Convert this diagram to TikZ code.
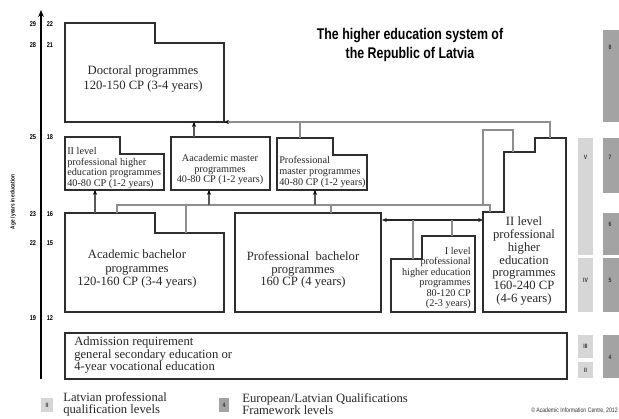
\documentclass[tikz,border=0pt]{standalone}
\usepackage{fontspec}
\setmainfont{Liberation Serif}
\newfontfamily\condsans[FakeStretch=0.8]{Liberation Sans}
\usepackage{tikz}
\usetikzlibrary{arrows.meta, positioning, calc}

\definecolor{lvlight}{HTML}{D6D6D6}
\definecolor{lvdark}{HTML}{A3A3A3}
\definecolor{boxline}{HTML}{2E2E2E}
\definecolor{connline}{HTML}{8E8E8E}

\begin{document}
\begin{tikzpicture}[x=0.025cm, y=-0.025cm,
    prog/.style={draw=boxline, line width=1.3pt},
    conn/.style={draw=connline, line width=0.8pt},
    arr/.style={draw=black!65, line width=0.8pt, -{Stealth[length=3.5pt, width=3pt, black]}},
    big/.style={font=\fontsize{9}{9.1}\selectfont, align=center, inner sep=0pt, text=black!85},
    small/.style={font=\fontsize{7.3}{7.5}\selectfont, inner sep=0pt, text=black!85},
    age/.style={font=\condsans\bfseries\fontsize{5}{5}\selectfont, inner sep=0pt},
    lvl/.style={font=\condsans\bfseries\fontsize{4.5}{4.5}\selectfont, inner sep=0pt, text=black!80}]
    \useasboundingbox (0,0) rectangle (619,419);

    % Achse
    \coordinate (axbot) at (41,379);
    \coordinate (axtop) at (41,10);
    \draw[line width=1.4pt, -{Stealth[length=5pt, width=4pt]}] (axbot) -- (axtop);
    \foreach \yy/\a/\b in {24/29/22, 45/28/21, 137/25/18, 214/23/16, 243/22/15, 318/19/12} {
        \node[age] (agea\a) at (33,\yy) {\a};
        \node[age] (ageb\b) at (50,\yy) {\b};
    }
    \node[age, rotate=90, font=\condsans\bfseries\fontsize{4.2}{4.2}\selectfont] (axlab) at (13,202) {Age / years in education};

    % Titel
    \node[font=\condsans\bfseries\fontsize{11}{14.2}\selectfont, align=center, inner sep=0pt] (title) at (410,45)
        {The higher education system of\\the Republic of Latvia};

    % Programme
    \draw[prog] (65,23) -- (155,23) -- (155,43) -- (224,43) -- (224,122) -- (65,122) -- cycle;
    \node[big, font=\fontsize{9}{10.7}\selectfont] (doc) at (143,79) {Doctoral programmes\\120-150 CP (3-4 years)};

    \draw[prog] (65,137) -- (120,137) -- (120,154) -- (164,154) -- (164,190) -- (65,190) -- cycle;
    \node[small, align=left, anchor=west] (p2m) at (67,168) {II level\\professional higher\\education programmes\\40-80 CP (1-2 years)};

    \draw[prog] (171,137) rectangle (270,190);
    \node[small, align=center] (am) at (220,170) {Aacademic master\\programmes\\40-80 CP (1-2 years)};

    \draw[prog] (277,138) -- (333,138) -- (333,155) -- (367,155) -- (367,190) -- (277,190) -- cycle;
    \node[small, align=left, anchor=west] (pm) at (279,172) {Professional\\master programmes\\40-80 CP (1-2 years)};

    \draw[prog] (65,213) -- (155,213) -- (155,233) -- (224,233) -- (224,312) -- (65,312) -- cycle;
    \node[big, font=\fontsize{9}{9.3}\selectfont] (ab) at (137,269) {Academic bachelor\\programmes\\120-160 CP (3-4 years)};

    \draw[prog] (235,213) rectangle (381,312);
    \node[big] (pb) at (303,270) {Professional~ bachelor\\programmes\\160 CP (4 years)};

    \draw[prog] (391,259) -- (422,259) -- (422,236) -- (475,236) -- (475,312) -- (391,312) -- cycle;
    \node[small, align=right, anchor=east] (p1) at (471,278) {I level\\professional\\higher education\\programmes\\80-120 CP\\(2-3 years)};

    \draw[prog] (483,312) -- (483,212) -- (504,212) -- (504,152) -- (535,152) -- (535,138) -- (566,138) -- (566,312) -- cycle;
    \node[big] (p2l) at (524,261) {II level\\professional\\higher\\education\\programmes\\160-240 CP\\(4-6 years)};

    \draw[prog] (65,333) rectangle (567,379);
    \node[big, align=left, anchor=west] (adm) at (74,355) {Admission requirement\\general secondary education or\\4-year vocational education};

    % Verbindungen
    \coordinate (docBR) at (224,122);
    \coordinate (p2lTop) at (550,138);
    \coordinate (pmTop) at (300,138);
    \coordinate (amTop) at (194,137);
    \draw[conn, -{Stealth[length=3.5pt, width=3pt, black]}] (p2lTop) |- (docBR);
    \draw[conn] (pmTop) -- (pmTop |- docBR);
    \draw[arr] (amTop) -- (amTop |- docBR);

    \coordinate (abTop) at (117,213);
    \coordinate (busR) at (490,205);
    \coordinate (p2lStep) at (490,212);
    \coordinate (abStep) at (186,233);
    \coordinate (amBot) at (209,190);
    \coordinate (pmBot) at (315,190);
    \coordinate (pbTop) at (331,213);
    \coordinate (abArr) at (95,213);
    \coordinate (p2mBot) at (95,190);
    \draw[conn] (abTop) |- (busR) -- (p2lStep);
    \draw[conn] (abStep) -- (abStep |- busR);
    \draw[arr] (amBot |- busR) -- (amBot);
    \draw[arr] (pmBot |- busR) -- (pmBot);
    \draw[conn] (pbTop) -- (pbTop |- busR);
    \draw[arr] (abArr) -- (p2mBot);

    \coordinate (uBot) at (483,205);
    \coordinate (uTop) at (513,130);
    \coordinate (p2lUp) at (513,152);
    \draw[conn] (uBot) |- (uTop) -- (p2lUp);

    \coordinate (pbR) at (382,220);
    \coordinate (p2lL) at (483,220);
    \draw[line width=1pt, black!85, {Stealth[length=3.5pt, width=3pt]}-{Stealth[length=3.5pt, width=3pt]}] (pbR) -- (p2lL);
    \coordinate (p1a) at (413,220);
    \coordinate (p1Low) at (413,259);
    \coordinate (p1b) at (452,220);
    \coordinate (p1High) at (452,236);
    \draw[conn] (p1a) -- (p1Low);
    \draw[conn] (p1b) -- (p1High);

    % Niveaus
    \foreach \ya/\yb/\ly/\t in {138/255/157/V, 258/312/280/IV, 335/358/346/III, 362/378/370/II} {
        \fill[lvlight] (578,\ya) rectangle (593,\yb);
        \node[lvl] (lv\t) at (585.5,\ly) {\t};
    }
    \foreach \ya/\yb/\ly/\t in {30/122/47/8, 138/193/157/7, 213/255/224/6, 258/312/280/5, 335/378/357/4} {
        \fill[lvdark] (603,\ya) rectangle (619,\yb);
        \node[lvl] (eq\t) at (610,\ly) {\t};
    }

    % Legende
    \fill[lvlight] (41,398) rectangle (53,412);
    \node[lvl] (legA) at (47,405) {II};
    \node[big, align=left, anchor=west, font=\fontsize{9}{8.5}\selectfont] (legAtxt) at (63,404) {Latvian professional\\qualification levels};
    \fill[lvdark] (219,398) rectangle (229,412);
    \node[lvl] (legB) at (224,405) {4};
    \node[big, align=left, anchor=west, font=\fontsize{9}{8.5}\selectfont] (legBtxt) at (242,404) {European/Latvian Qualifications\\Framework levels};
    \node[font=\fontsize{4.6}{4.6}\selectfont\condsans, inner sep=0pt, anchor=east, text=black!80] (copy) at (618,411) {\textcopyright\,Academic Information Centre, 2012};
\end{tikzpicture}
\end{document}
